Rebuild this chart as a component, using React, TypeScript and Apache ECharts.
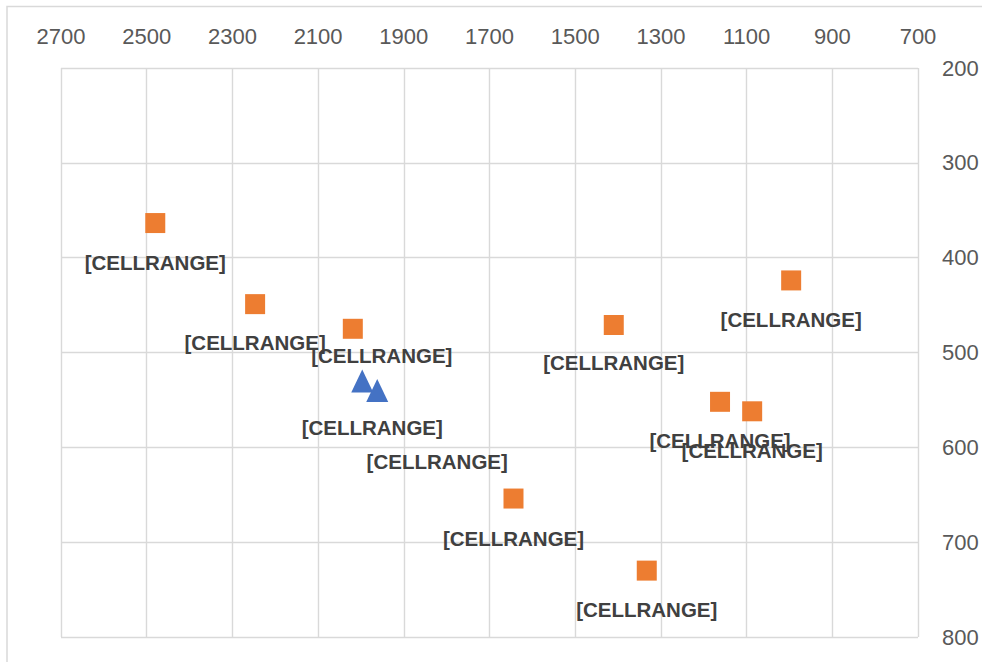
import React, { useEffect, useRef } from "react";
import * as echarts from "echarts";

// X ticks run 2700 (left) → 700 (right); Y ticks 200 (top) → 800 (bottom)
const xTicks = [700, 900, 1100, 1300, 1500, 1700, 1900, 2100, 2300, 2500, 2700];
const yTicks = [200, 300, 400, 500, 600, 700, 800];

const labelText = "[CELLRANGE]";

// Orange squares: [x, y]
const squareX = [2480, 2247, 2019, 1410, 996, 1162, 1087, 1644, 1333];
const squareY = [363.5, 449, 475, 471, 424, 552, 562, 654, 730];
// label offsets (manually placed labels in the source)
const squareLabelDx = [0, 0, 29, 0, 0, 0, 0, 0, 0];
const squareLabelDy = [39, 38.5, 27, 38, 39, 39, 39, 40, 39];

// Blue triangles
const triX = [1997, 1962];
const triY = [530, 540];
const triLabelDx = [10, 60];
const triLabelDy = [47, 71];

const labelFont = {
  fontFamily: "'Liberation Sans', Arial, sans-serif",
  fontWeight: "bold" as const,
  fontSize: 20.5,
  color: "#404040",
};

export default function App() {
  const ref = useRef<HTMLDivElement>(null);

  useEffect(() => {
    document.body.style.margin = "0";
    const chart = echarts.init(ref.current!, null, { renderer: "svg" });

    const mk = (x: number, y: number, dx: number, dy: number) => ({
      value: [x, y],
      label: {
        show: true,
        position: "inside",
        formatter: labelText,
        offset: [dx, dy],
        ...labelFont,
      },
    });
    const squares = squareX.map((x, i) => mk(x, squareY[i], squareLabelDx[i], squareLabelDy[i]));
    const tris = triX.map((x, i) => mk(x, triY[i], triLabelDx[i], triLabelDy[i]));

    const tickFont = {
      fontFamily: "'Liberation Sans', Arial, sans-serif",
      fontSize: 22,
      color: "#595959",
      formatter: (v: number) => String(v),
    };
    const gridLine = { lineStyle: { color: "#d9d9d9", width: 1.4 } };

    chart.setOption({
      animation: false,
      backgroundColor: "#ffffff",
      graphic: [
        {
          type: "rect",
          shape: { x: 7, y: 6.5, width: 1000, height: 700 },
          style: { fill: "none", stroke: "#d9d9d9", lineWidth: 1.5 },
          silent: true,
        },
      ],
      grid: { left: 61, right: 64, top: 68, bottom: 25, containLabel: false },
      xAxis: {
        type: "value",
        position: "top",
        inverse: true,
        min: xTicks[0],
        max: xTicks[xTicks.length - 1],
        interval: 200,
        axisLine: { show: false },
        axisTick: { show: false },
        splitLine: { show: true, ...gridLine },
        axisLabel: { margin: 21, ...tickFont },
      },
      yAxis: {
        type: "value",
        position: "right",
        inverse: true,
        min: yTicks[0],
        max: yTicks[yTicks.length - 1],
        interval: 100,
        axisLine: { show: false },
        axisTick: { show: false },
        splitLine: { show: true, ...gridLine },
        axisLabel: { margin: 24, ...tickFont },
      },
      series: [
        {
          type: "scatter",
          symbol: "rect",
          symbolSize: 20,
          itemStyle: { color: "#ED7D31", opacity: 1 },
          data: squares,
          z: 3,
        },
        {
          type: "scatter",
          symbol: "triangle",
          symbolSize: [22, 23],
          itemStyle: { color: "#4472C4", opacity: 1 },
          data: tris,
          z: 4,
        },
      ],
    });

    return () => chart.dispose();
  }, []);

  return <div ref={ref} style={{ width: 982, height: 662 }} />;
}
